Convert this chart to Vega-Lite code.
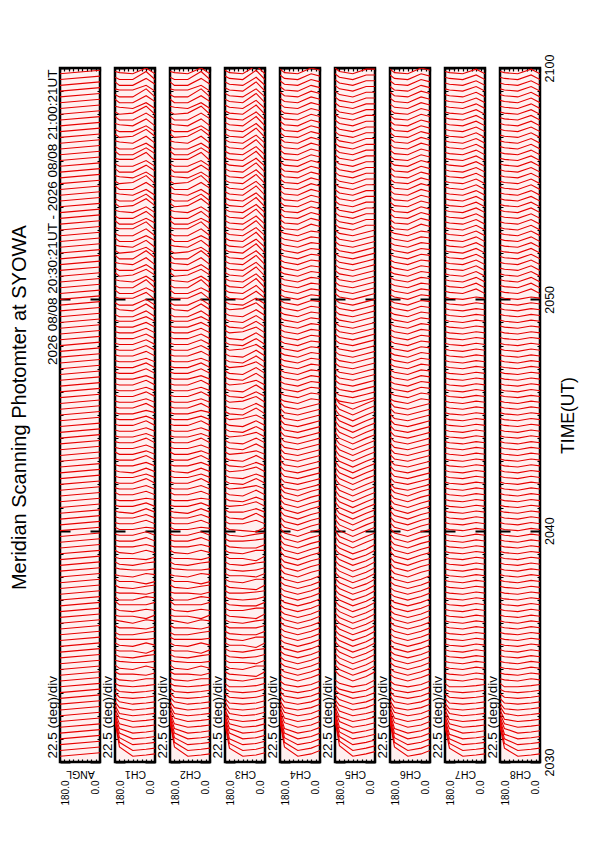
{
  "$schema": "https://vega.github.io/schema/vega-lite/v6.json",
  "padding": {"left": 10, "top": 52, "right": 5, "bottom": 5},
  "background": "white",
  "title": {"text": "Meridian Scanning Photomter at SYOWA", "orient": "left", "anchor": "middle", "fontSize": 20, "fontWeight": "normal", "font": "Liberation Sans", "color": "black", "offset": 14, "dx": 22},
  "config": {
    "font": "Liberation Sans",
    "view": {"stroke": "black", "strokeWidth": 2.5, "fill": "#fff0f0"},
    "axis": {"domain": false, "ticks": false, "tickSize": 0, "labelFont": "Liberation Sans", "titleFont": "Liberation Sans", "titleFontWeight": "normal", "labelColor": "black", "titleColor": "black", "gridColor": "black", "gridOpacity": 1, "labelFlush": false, "labelOverlap": false, "labelBound": false, "zindex": 1},
    "axisX": {"tickCount": 8, "grid": true, "gridDash": [3, 688, 3], "gridWidth": 1.2, "labelAngle": 270, "labelAlign": "right", "labelFontSize": 10, "labelPadding": 18, "titleAngle": 180, "titleFontSize": 10.5, "titleBaseline": "middle"},
    "axisY": {"tickCount": 30, "grid": true, "labelAngle": 270, "labelAlign": "left", "labelBaseline": "alphabetic", "labelFontSize": 13.5, "labelPadding": 3.5, "labelOffset": -4}
  },
  "datasets": {
    "ang": [{"i": 1, "a": 180}, {"i": 2, "a": 160}, {"i": 3, "a": 100}, {"i": 4, "a": 40}, {"i": 5, "a": 0}],
    "angA": [{"i": 1, "a": 180}, {"i": 2, "a": 0}],
    "dN": [
{"t":[5,8]},{"t":[10,13]},{"t":[15,18]},{"t":[20,23]},{"t":[25,28]},{"t":[30,33]},{"t":[35,38]},{"t":[40,43]},{"t":[45,48]},{"t":[50,53]},
{"t":[55,58]},{"t":[60,63]},{"t":[65,68]},{"t":[70,73]},{"t":[75,78]},{"t":[80,83]},{"t":[85,88]},{"t":[90,93]},{"t":[95,98]},{"t":[100,103]},
{"t":[105,108]},{"t":[110,113]},{"t":[115,118]},{"t":[120,123]},{"t":[125,128]},{"t":[130,133]},{"t":[135,138]},{"t":[140,143]},{"t":[145,148]},{"t":[150,153]},
{"t":[155,158]},{"t":[160,163]},{"t":[165,168]},{"t":[170,173]},{"t":[175,178]},{"t":[180,183]},{"t":[185,188]},{"t":[190,193]},{"t":[195,198]},{"t":[200,203]},
{"t":[205,208]},{"t":[210,213]},{"t":[215,218]},{"t":[220,223]},{"t":[225,228]},{"t":[230,233]},{"t":[235,238]},{"t":[240,243]},{"t":[245,248]},{"t":[250,253]},
{"t":[255,258]},{"t":[260,263]},{"t":[265,268]},{"t":[270,273]},{"t":[275,278]},{"t":[280,283]},{"t":[285,288]},{"t":[290,293]},{"t":[295,298]},{"t":[300,303]},
{"t":[305,308]},{"t":[310,313]},{"t":[315,318]},{"t":[320,323]},{"t":[325,328]},{"t":[330,333]},{"t":[335,338]},{"t":[340,343]},{"t":[345,348]},{"t":[350,353]},
{"t":[355,358]},{"t":[360,363]},{"t":[365,368]},{"t":[370,373]},{"t":[375,378]},{"t":[380,383]},{"t":[385,388]},{"t":[390,393]},{"t":[395,398]},{"t":[400,403]},
{"t":[405,408]},{"t":[410,413]},{"t":[415,418]},{"t":[420,423]},{"t":[425,428]},{"t":[430,433]},{"t":[435,438]},{"t":[440,443]},{"t":[445,448]},{"t":[450,453]},
{"t":[455,458]},{"t":[460,463]},{"t":[465,468]},{"t":[470,473]},{"t":[475,478]},{"t":[480,483]},{"t":[485,488]},{"t":[490,493]},{"t":[495,498]},{"t":[500,503]},
{"t":[505,508]},{"t":[510,513]},{"t":[515,518]},{"t":[520,523]},{"t":[525,528]},{"t":[530,533]},{"t":[535,538]},{"t":[540,543]},{"t":[545,548]},{"t":[550,553]},
{"t":[555,558]},{"t":[560,563]},{"t":[565,568]},{"t":[570,573]},{"t":[575,578]},{"t":[580,583]},{"t":[585,588]},{"t":[590,593]},{"t":[595,598]}
    ],
    "dA": [
{"t":[35,13,5,6,7]},{"t":[36,17,10,11,12]},{"t":[37,21,15,16,17]},{"t":[39,25,20,21,22]},{"t":[41,29,25,26,27]},{"t":[43,33,30,31,32]},{"t":[46,38,35,36,37]},{"t":[49,42,40,41,42]},{"t":[52,47,45,46,47]},{"t":[56,52,50,51,52]},
{"t":[60,56,55,56,57]},{"t":[64,61,60,61,62]},{"t":[68,66,65,66,67]},{"t":[73,71,70,72,72]},{"t":[78,76,76,75,77]},{"t":[84,81,80,83,81]},{"t":[88,87,86,86,87]},{"t":[93,91,90,92,93]},{"t":[97,96,96,94,97]},{"t":[103,101,100,103,101]},
{"t":[108,106,106,106,107]},{"t":[112,110,110,112,113]},{"t":[118,116,116,115,117]},{"t":[123,122,120,123,122]},{"t":[127,126,126,124,127]},{"t":[133,131,130,132,131]},{"t":[139,136,136,136,138]},{"t":[143,140,140,143,142]},{"t":[147,146,146,145,147]},{"t":[153,151,150,152,153]},
{"t":[158,156,156,154,156]},{"t":[162,161,160,163,162]},{"t":[168,167,166,166,167]},{"t":[173,171,170,172,173]},{"t":[177,176,176,175,177]},{"t":[183,181,180,183,181]},{"t":[187,186,186,188,186]},{"t":[192,191,191,194,191]},{"t":[197,196,196,199,196]},{"t":[203,201,201,203,202]},
{"t":[207,206,206,209,206]},{"t":[212,211,211,214,211]},{"t":[217,216,215,219,216]},{"t":[222,221,221,224,221]},{"t":[227,226,226,228,227]},{"t":[233,231,231,234,231]},{"t":[237,236,236,239,236]},{"t":[242,241,241,245,241]},{"t":[247,246,246,249,246]},{"t":[252,251,250,254,251]},
{"t":[257,256,256,259,256]},{"t":[262,261,261,265,261]},{"t":[268,266,266,269,266]},{"t":[272,271,271,274,271]},{"t":[277,276,276,280,276]},{"t":[282,281,281,284,281]},{"t":[287,286,286,289,286]},{"t":[292,291,291,295,291]},{"t":[297,296,296,299,296]},{"t":[302,301,301,304,302]},
{"t":[307,306,306,310,306]},{"t":[312,311,311,314,311]},{"t":[317,316,316,320,316]},{"t":[322,321,321,324,321]},{"t":[327,326,326,330,326]},{"t":[332,331,331,334,331]},{"t":[337,336,336,340,336]},{"t":[342,341,341,345,341]},{"t":[347,346,346,349,346]},{"t":[352,351,351,355,351]},
{"t":[357,356,356,360,356]},{"t":[362,361,361,365,361]},{"t":[367,366,366,370,366]},{"t":[372,371,371,375,371]},{"t":[377,376,376,380,376]},{"t":[382,381,381,385,381]},{"t":[387,385,385,390,385]},{"t":[393,391,390,396,391]},{"t":[397,395,395,400,395]},{"t":[402,401,401,406,400]},
{"t":[408,405,405,410,406]},{"t":[412,410,410,417,410]},{"t":[417,416,415,420,415]},{"t":[423,420,421,426,421]},{"t":[427,425,425,430,425]},{"t":[432,431,430,436,430]},{"t":[438,435,435,442,436]},{"t":[442,440,441,445,440]},{"t":[447,446,445,451,445]},{"t":[453,450,450,455,451]},
{"t":[457,455,455,461,455]},{"t":[462,461,461,467,460]},{"t":[468,465,465,470,466]},{"t":[472,470,470,476,470]},{"t":[477,476,475,480,475]},{"t":[483,480,481,487,481]},{"t":[487,485,485,491,485]},{"t":[492,491,490,495,490]},{"t":[498,495,495,501,496]},{"t":[502,500,501,507,500]},
{"t":[507,506,505,510,505]},{"t":[513,510,510,516,511]},{"t":[517,515,515,520,515]},{"t":[522,521,521,527,520]},{"t":[528,525,525,531,526]},{"t":[532,530,530,535,530]},{"t":[537,536,535,541,535]},{"t":[543,540,541,547,541]},{"t":[547,545,545,550,545]},{"t":[552,551,550,556,550]},
{"t":[558,555,555,561,556]},{"t":[562,560,561,567,560]},{"t":[567,566,565,570,565]},{"t":[573,570,570,576,571]},{"t":[577,575,575,582,575]},{"t":[582,581,581,585,580]},{"t":[588,585,585,591,586]},{"t":[592,590,590,597,590]},{"t":[597,596,595,600,595]}
    ],
    "dB": [
{"t":[33,12,5,6,8]},{"t":[35,16,10,11,13]},{"t":[37,20,15,16,18]},{"t":[38,25,20,21,23]},{"t":[40,29,25,26,28]},{"t":[43,33,30,31,33]},{"t":[45,37,35,36,38]},{"t":[48,42,40,41,43]},{"t":[52,46,45,46,48]},{"t":[55,51,50,51,53]},
{"t":[59,56,55,56,58]},{"t":[64,61,60,61,63]},{"t":[68,65,65,66,68]},{"t":[73,71,70,72,73]},{"t":[78,76,75,74,78]},{"t":[83,81,80,83,83]},{"t":[88,86,86,85,88]},{"t":[93,91,90,91,93]},{"t":[98,96,95,97,98]},{"t":[103,101,101,99,103]},
{"t":[108,106,105,108,108]},{"t":[113,111,110,110,113]},{"t":[118,116,116,116,118]},{"t":[123,121,120,122,123]},{"t":[128,126,125,124,128]},{"t":[133,131,131,133,133]},{"t":[138,136,135,135,138]},{"t":[143,141,140,141,143]},{"t":[148,146,146,147,148]},{"t":[153,151,150,149,153]},
{"t":[158,156,155,158,158]},{"t":[163,161,161,160,163]},{"t":[168,166,165,166,168]},{"t":[173,171,170,172,173]},{"t":[178,176,176,174,178]},{"t":[183,181,180,183,183]},{"t":[188,186,185,185,188]},{"t":[193,191,191,192,193]},{"t":[198,196,195,197,198]},{"t":[203,201,200,199,203]},
{"t":[208,206,206,209,206]},{"t":[213,211,210,215,211]},{"t":[218,216,216,219,216]},{"t":[222,221,222,225,221]},{"t":[228,226,225,229,226]},{"t":[233,231,230,235,231]},{"t":[238,236,237,239,236]},{"t":[243,241,240,245,241]},{"t":[248,246,245,249,246]},{"t":[253,251,252,255,251]},
{"t":[258,256,255,259,256]},{"t":[263,261,260,265,261]},{"t":[268,266,267,269,266]},{"t":[273,271,270,275,271]},{"t":[278,276,275,280,276]},{"t":[283,281,282,285,281]},{"t":[288,286,285,290,286]},{"t":[293,291,290,295,291]},{"t":[298,296,297,300,296]},{"t":[303,301,300,306,301]},
{"t":[308,306,305,310,306]},{"t":[313,311,312,316,311]},{"t":[318,316,315,320,316]},{"t":[323,321,320,326,321]},{"t":[328,326,327,330,326]},{"t":[333,331,330,336,331]},{"t":[338,336,335,341,336]},{"t":[343,341,342,346,341]},{"t":[348,346,345,351,346]},{"t":[353,351,350,356,351]},
{"t":[358,356,357,361,356]},{"t":[363,361,360,366,361]},{"t":[368,366,365,371,366]},{"t":[373,371,372,376,371]},{"t":[378,376,375,381,376]},{"t":[383,381,380,386,381]},{"t":[388,386,385,391,386]},{"t":[393,391,392,397,391]},{"t":[398,396,395,401,396]},{"t":[403,401,400,407,401]},
{"t":[408,406,405,412,405]},{"t":[413,411,410,418,410]},{"t":[418,416,415,422,415]},{"t":[423,421,420,428,420]},{"t":[428,426,425,432,425]},{"t":[433,431,430,438,430]},{"t":[438,436,435,442,435]},{"t":[443,441,440,448,440]},{"t":[448,446,445,452,445]},{"t":[453,451,450,458,450]},
{"t":[458,456,455,462,455]},{"t":[463,461,460,468,460]},{"t":[468,466,465,472,465]},{"t":[473,471,470,478,470]},{"t":[478,476,475,482,475]},{"t":[483,481,480,488,480]},{"t":[488,486,485,492,485]},{"t":[493,491,490,498,490]},{"t":[498,496,495,502,495]},{"t":[503,501,500,508,500]},
{"t":[508,506,505,512,505]},{"t":[513,511,510,518,510]},{"t":[518,516,515,522,515]},{"t":[523,521,520,528,520]},{"t":[528,526,525,532,525]},{"t":[533,531,530,538,530]},{"t":[538,536,535,542,535]},{"t":[543,541,540,548,540]},{"t":[548,546,545,552,545]},{"t":[553,551,550,558,550]},
{"t":[558,556,555,562,555]},{"t":[563,561,560,568,560]},{"t":[568,566,565,572,565]},{"t":[573,571,570,578,570]},{"t":[578,576,575,582,575]},{"t":[583,581,580,588,580]},{"t":[588,586,585,592,585]},{"t":[593,591,590,598,590]},{"t":[598,596,595,602,595]}
    ],
    "dC": [
{"t":[35,13,5,7,10]},{"t":[37,17,10,12,15]},{"t":[38,21,15,17,20]},{"t":[40,25,20,22,25]},{"t":[42,29,25,27,30]},{"t":[44,34,30,32,35]},{"t":[47,38,35,37,40]},{"t":[50,43,40,42,45]},{"t":[53,47,45,47,50]},{"t":[57,52,50,52,55]},
{"t":[61,57,55,57,60]},{"t":[65,62,60,62,65]},{"t":[70,67,65,67,70]},{"t":[76,73,70,73,76]},{"t":[81,78,75,78,81]},{"t":[86,83,80,83,86]},{"t":[91,88,85,88,91]},{"t":[96,93,90,93,96]},{"t":[101,98,95,98,101]},{"t":[106,103,100,103,106]},
{"t":[111,108,105,108,111]},{"t":[116,113,110,113,116]},{"t":[121,118,115,118,121]},{"t":[126,123,120,123,126]},{"t":[131,128,125,128,131]},{"t":[136,133,130,133,136]},{"t":[141,138,135,138,141]},{"t":[146,143,140,143,146]},{"t":[151,148,145,148,151]},{"t":[156,153,150,153,156]},
{"t":[161,158,155,158,161]},{"t":[167,163,160,164,166]},{"t":[172,168,165,169,171]},{"t":[177,173,170,174,176]},{"t":[182,178,175,179,181]},{"t":[187,183,180,184,186]},{"t":[192,188,185,189,191]},{"t":[197,193,190,194,196]},{"t":[202,198,195,199,201]},{"t":[207,203,200,204,206]},
{"t":[212,208,205,209,211]},{"t":[217,213,210,214,216]},{"t":[222,218,215,219,221]},{"t":[227,223,220,224,226]},{"t":[232,228,225,229,231]},{"t":[237,233,230,234,236]},{"t":[241,237,235,238,240]},{"t":[246,242,240,243,245]},{"t":[251,247,245,248,250]},{"t":[256,252,250,253,255]},
{"t":[261,257,255,258,260]},{"t":[266,262,260,263,265]},{"t":[271,267,265,268,270]},{"t":[276,272,270,273,275]},{"t":[281,277,275,278,280]},{"t":[286,282,280,283,285]},{"t":[291,287,285,288,290]},{"t":[296,292,290,293,295]},{"t":[301,297,295,298,300]},{"t":[306,302,300,303,305]},
{"t":[311,307,305,308,310]},{"t":[314,312,310,314,313]},{"t":[319,317,315,319,318]},{"t":[324,322,320,324,323]},{"t":[329,327,325,329,328]},{"t":[334,332,330,334,333]},{"t":[339,337,335,339,338]},{"t":[344,342,340,344,343]},{"t":[349,347,345,349,348]},{"t":[354,352,350,354,353]},
{"t":[359,357,355,359,358]},{"t":[364,362,360,364,363]},{"t":[369,367,365,369,368]},{"t":[374,372,370,374,373]},{"t":[379,377,375,379,378]},{"t":[384,382,380,384,383]},{"t":[389,387,385,389,388]},{"t":[394,392,390,394,393]},{"t":[399,397,395,399,398]},{"t":[404,402,400,404,403]},
{"t":[409,407,405,409,408]},{"t":[414,412,410,414,413]},{"t":[419,417,415,419,418]},{"t":[424,422,420,424,423]},{"t":[429,427,425,429,428]},{"t":[434,432,430,434,433]},{"t":[439,437,435,439,438]},{"t":[444,442,440,444,443]},{"t":[449,447,445,449,448]},{"t":[454,452,450,454,453]},
{"t":[459,457,455,459,458]},{"t":[464,461,460,465,463]},{"t":[469,466,465,470,468]},{"t":[474,471,470,475,473]},{"t":[479,476,475,480,478]},{"t":[484,481,480,485,483]},{"t":[489,486,485,490,488]},{"t":[494,491,490,495,493]},{"t":[499,496,495,500,498]},{"t":[504,501,500,505,503]},
{"t":[509,506,505,510,508]},{"t":[514,511,510,515,513]},{"t":[519,516,515,520,518]},{"t":[524,521,520,525,523]},{"t":[529,526,525,530,528]},{"t":[534,531,530,535,533]},{"t":[539,536,535,540,538]},{"t":[544,541,540,545,543]},{"t":[549,546,545,550,548]},{"t":[554,551,550,555,553]},
{"t":[559,556,555,560,558]},{"t":[564,561,560,565,563]},{"t":[569,566,565,570,568]},{"t":[574,571,570,575,573]},{"t":[579,576,575,580,578]},{"t":[584,581,580,585,583]},{"t":[589,586,585,590,588]},{"t":[594,591,590,595,593]},{"t":[599,596,595,600,598]}
    ],
    "dD": [
{"t":[36,14,5,7,9]},{"t":[38,18,10,12,14]},{"t":[39,22,15,17,19]},{"t":[41,26,20,22,24]},{"t":[43,30,25,27,29]},{"t":[45,35,30,32,34]},{"t":[48,39,35,37,39]},{"t":[51,44,40,42,44]},{"t":[54,49,45,47,50]},{"t":[58,54,50,52,55]},
{"t":[62,59,55,57,60]},{"t":[66,63,60,62,66]},{"t":[71,68,65,67,71]},{"t":[79,75,70,74,78]},{"t":[84,80,75,79,83]},{"t":[89,85,80,84,88]},{"t":[94,90,85,89,93]},{"t":[99,95,90,94,98]},{"t":[104,100,95,99,103]},{"t":[109,105,100,104,108]},
{"t":[114,110,105,109,113]},{"t":[119,115,110,114,118]},{"t":[124,120,115,119,123]},{"t":[129,125,120,124,128]},{"t":[134,130,125,129,133]},{"t":[139,135,130,134,138]},{"t":[144,140,135,139,143]},{"t":[149,145,140,144,148]},{"t":[154,150,145,149,153]},{"t":[159,155,150,154,158]},
{"t":[164,160,155,159,163]},{"t":[169,165,160,164,168]},{"t":[174,170,165,169,173]},{"t":[179,175,170,174,178]},{"t":[184,180,175,179,183]},{"t":[189,185,180,184,188]},{"t":[195,190,185,190,193]},{"t":[200,195,190,195,198]},{"t":[205,200,195,200,203]},{"t":[210,205,200,205,208]},
{"t":[215,210,205,210,213]},{"t":[220,215,210,215,218]},{"t":[225,220,215,220,223]},{"t":[230,225,220,225,228]},{"t":[235,230,225,230,233]},{"t":[240,235,230,235,238]},{"t":[245,240,235,240,243]},{"t":[250,245,240,245,248]},{"t":[255,250,245,250,253]},{"t":[260,255,250,255,258]},
{"t":[265,260,255,260,263]},{"t":[270,265,260,265,268]},{"t":[275,270,265,270,273]},{"t":[280,275,270,275,278]},{"t":[285,280,275,280,283]},{"t":[290,285,280,285,288]},{"t":[295,290,285,290,293]},{"t":[300,295,290,295,298]},{"t":[305,300,295,300,303]},{"t":[310,305,300,305,308]},
{"t":[315,310,305,310,313]},{"t":[315,312,310,313,315]},{"t":[320,317,315,318,320]},{"t":[325,322,320,323,325]},{"t":[330,327,325,328,330]},{"t":[335,332,330,333,335]},{"t":[340,337,335,338,340]},{"t":[345,342,340,343,345]},{"t":[350,347,345,348,350]},{"t":[355,352,350,353,355]},
{"t":[360,357,355,358,360]},{"t":[365,362,360,363,365]},{"t":[370,367,365,368,370]},{"t":[375,372,370,373,375]},{"t":[380,377,375,378,380]},{"t":[385,382,380,383,385]},{"t":[390,387,385,388,390]},{"t":[395,392,390,393,395]},{"t":[400,397,395,398,400]},{"t":[405,402,400,403,405]},
{"t":[410,407,405,408,410]},{"t":[415,412,410,413,415]},{"t":[420,417,415,418,420]},{"t":[425,422,420,423,425]},{"t":[430,427,425,428,430]},{"t":[435,432,430,433,435]},{"t":[440,437,435,438,440]},{"t":[445,442,440,443,445]},{"t":[450,447,445,448,450]},{"t":[455,452,450,453,455]},
{"t":[460,457,455,458,460]},{"t":[465,462,460,464,464]},{"t":[470,467,465,469,469]},{"t":[475,472,470,474,474]},{"t":[480,477,475,479,479]},{"t":[485,482,480,484,484]},{"t":[490,487,485,489,489]},{"t":[495,492,490,494,494]},{"t":[500,497,495,499,499]},{"t":[505,502,500,504,504]},
{"t":[510,507,505,509,509]},{"t":[515,512,510,514,514]},{"t":[520,517,515,519,519]},{"t":[525,522,520,524,524]},{"t":[530,527,525,529,529]},{"t":[535,532,530,534,534]},{"t":[540,537,535,539,539]},{"t":[545,542,540,544,544]},{"t":[550,547,545,549,549]},{"t":[555,552,550,554,554]},
{"t":[560,557,555,559,559]},{"t":[565,562,560,564,564]},{"t":[570,567,565,569,569]},{"t":[575,572,570,574,574]},{"t":[580,577,575,579,579]},{"t":[585,582,580,584,584]},{"t":[590,587,585,589,589]},{"t":[595,592,590,594,594]},{"t":[600,597,595,599,599]}
    ],
    "dE": [
{"t":[31,12,5,6,7]},{"t":[33,16,10,11,12]},{"t":[35,20,15,16,17]},{"t":[37,24,20,21,22]},{"t":[39,29,25,26,27]},{"t":[42,33,30,31,32]},{"t":[45,37,35,36,37]},{"t":[48,42,40,41,42]},{"t":[51,46,45,46,47]},{"t":[55,51,50,51,52]},
{"t":[59,56,55,56,57]},{"t":[63,61,60,61,62]},{"t":[68,65,65,66,67]},{"t":[72,71,70,72,71]},{"t":[77,76,75,77,76]},{"t":[82,81,80,82,81]},{"t":[87,86,85,87,86]},{"t":[92,91,90,92,91]},{"t":[97,96,95,97,96]},{"t":[102,101,100,102,101]},
{"t":[107,106,105,107,106]},{"t":[112,111,110,112,111]},{"t":[117,116,115,117,116]},{"t":[122,121,120,122,121]},{"t":[127,126,125,127,126]},{"t":[132,131,130,132,131]},{"t":[137,136,135,137,136]},{"t":[142,141,140,142,141]},{"t":[147,146,145,147,146]},{"t":[152,151,150,152,151]},
{"t":[157,156,155,157,156]},{"t":[162,161,160,162,161]},{"t":[167,166,165,167,166]},{"t":[172,171,170,172,171]},{"t":[177,176,175,177,176]},{"t":[182,181,180,182,181]},{"t":[187,186,185,187,186]},{"t":[192,191,190,192,191]},{"t":[197,196,195,197,196]},{"t":[202,201,200,202,201]},
{"t":[207,206,205,207,206]},{"t":[212,211,210,212,211]},{"t":[217,216,215,217,216]},{"t":[222,221,220,222,221]},{"t":[227,226,225,227,226]},{"t":[232,231,230,232,231]},{"t":[237,236,235,237,236]},{"t":[242,241,240,242,241]},{"t":[247,246,245,247,246]},{"t":[252,251,250,252,251]},
{"t":[257,256,255,257,256]},{"t":[262,261,260,262,261]},{"t":[267,266,265,267,266]},{"t":[272,271,270,272,271]},{"t":[277,276,275,277,276]},{"t":[282,281,280,282,281]},{"t":[287,286,285,287,286]},{"t":[292,291,290,292,291]},{"t":[297,296,295,297,296]},{"t":[302,301,300,302,301]},
{"t":[307,306,305,307,306]},{"t":[312,311,310,312,311]},{"t":[317,316,315,317,316]},{"t":[322,321,320,322,321]},{"t":[327,326,325,327,326]},{"t":[332,331,330,332,331]},{"t":[337,336,335,337,336]},{"t":[342,341,340,342,341]},{"t":[347,346,345,347,346]},{"t":[352,351,350,352,351]},
{"t":[357,356,355,357,356]},{"t":[362,361,360,362,361]},{"t":[367,366,365,367,366]},{"t":[372,371,370,372,371]},{"t":[377,376,375,377,376]},{"t":[382,381,380,382,381]},{"t":[387,386,385,387,386]},{"t":[392,391,390,392,391]},{"t":[397,396,395,397,396]},{"t":[402,401,400,402,401]},
{"t":[407,406,405,409,405]},{"t":[412,411,410,414,410]},{"t":[417,416,415,419,415]},{"t":[422,421,420,424,420]},{"t":[427,426,425,429,425]},{"t":[432,431,430,434,430]},{"t":[437,436,435,439,435]},{"t":[442,441,440,444,440]},{"t":[447,446,445,449,445]},{"t":[452,451,450,454,450]},
{"t":[457,456,455,459,455]},{"t":[462,461,460,464,460]},{"t":[467,466,465,469,465]},{"t":[472,471,470,474,470]},{"t":[477,476,475,479,475]},{"t":[482,481,480,484,480]},{"t":[487,486,485,489,485]},{"t":[492,491,490,494,490]},{"t":[497,496,495,499,495]},{"t":[502,501,500,504,500]},
{"t":[507,506,505,509,505]},{"t":[512,511,510,514,510]},{"t":[517,516,515,519,515]},{"t":[522,521,520,524,520]},{"t":[527,526,525,529,525]},{"t":[532,531,530,534,530]},{"t":[537,536,535,539,535]},{"t":[542,541,540,544,540]},{"t":[547,546,545,549,545]},{"t":[552,551,550,554,550]},
{"t":[557,556,555,559,555]},{"t":[562,561,560,564,560]},{"t":[567,566,565,569,565]},{"t":[572,571,570,574,570]},{"t":[577,576,575,579,575]},{"t":[582,581,580,584,580]},{"t":[587,586,585,589,585]},{"t":[592,591,590,594,590]},{"t":[597,596,595,599,595]}
    ]
  },
  "hconcat": [
    {
      "width": 40, "height": 694,
      "data": {"name": "dN"},
      "transform": [
        {"window": [{"op": "row_number", "as": "s"}]},
        {"flatten": ["t"]},
        {"window": [{"op": "row_number", "as": "i"}], "groupby": ["s"]},
        {"lookup": "i", "from": {"data": {"name": "angA"}, "key": "i", "fields": ["a"]}}
      ],
      "mark": {"type": "line", "clip": true, "color": "#e80000", "strokeWidth": 1.1},
      "encoding": {
        "x": {"field": "a", "type": "quantitative", "scale": {"domain": [0, 180], "reverse": true, "nice": false},
              "axis": {"title": "ANGL", "titleY": 11, "labelExpr": "datum.value == 180 ? '180.0' : datum.value == 0 ? '0.0' : ''", "labelBaseline": {"condition": {"test": "datum.value == 180", "value": "top"}, "value": "bottom"}}},
        "y": {"field": "t", "type": "quantitative", "scale": {"domain": [0, 600], "nice": false},
              "axis": {"title": "2026 08/08 20:30:21UT - 2026 08/08 21:00:21UT", "titleAngle": 270, "titleAlign": "right", "titleBaseline": "alphabetic", "titleX": -3.5, "titleY": 1, "titleFontSize": 13.5,
                       "labelExpr": "datum.value == 0 ? '22.5 (deg)/div' : ''", "gridDash": {"condition": {"test": "datum.value % 200 == 0", "value": [10, 20, 10]}, "value": [3, 34, 3]}, "gridWidth": {"condition": {"test": "datum.value % 200 == 0", "value": 2}, "value": 1.2}}},
        "detail": {"field": "s", "type": "nominal"},
        "order": {"field": "i", "type": "quantitative"}
      }
    },
    {
      "width": 40, "height": 694,
      "data": {"name": "dA"},
      "transform": [
        {"window": [{"op": "row_number", "as": "s"}]},
        {"flatten": ["t"]},
        {"window": [{"op": "row_number", "as": "i"}], "groupby": ["s"]},
        {"lookup": "i", "from": {"data": {"name": "ang"}, "key": "i", "fields": ["a"]}}
      ],
      "mark": {"type": "line", "clip": true, "color": "#e80000", "strokeWidth": 1.1},
      "encoding": {
        "x": {"field": "a", "type": "quantitative", "scale": {"domain": [0, 180], "reverse": true, "nice": false},
              "axis": {"title": "CH1", "titleY": 11, "labelExpr": "datum.value == 180 ? '180.0' : datum.value == 0 ? '0.0' : ''", "labelBaseline": {"condition": {"test": "datum.value == 180", "value": "top"}, "value": "bottom"}}},
        "y": {"field": "t", "type": "quantitative", "scale": {"domain": [0, 600], "nice": false},
              "axis": {"title": null, "labelExpr": "datum.value == 0 ? '22.5 (deg)/div' : ''", "gridDash": {"condition": {"test": "datum.value % 200 == 0", "value": [10, 20, 10]}, "value": [3, 34, 3]}, "gridWidth": {"condition": {"test": "datum.value % 200 == 0", "value": 2}, "value": 1.2}}},
        "detail": {"field": "s", "type": "nominal"},
        "order": {"field": "i", "type": "quantitative"}
      }
    },
    {
      "width": 40, "height": 694,
      "data": {"name": "dA"},
      "transform": [
        {"window": [{"op": "row_number", "as": "s"}]},
        {"flatten": ["t"]},
        {"window": [{"op": "row_number", "as": "i"}], "groupby": ["s"]},
        {"lookup": "i", "from": {"data": {"name": "ang"}, "key": "i", "fields": ["a"]}}
      ],
      "mark": {"type": "line", "clip": true, "color": "#e80000", "strokeWidth": 1.1},
      "encoding": {
        "x": {"field": "a", "type": "quantitative", "scale": {"domain": [0, 180], "reverse": true, "nice": false},
              "axis": {"title": "CH2", "titleY": 11, "labelExpr": "datum.value == 180 ? '180.0' : datum.value == 0 ? '0.0' : ''", "labelBaseline": {"condition": {"test": "datum.value == 180", "value": "top"}, "value": "bottom"}}},
        "y": {"field": "t", "type": "quantitative", "scale": {"domain": [0, 600], "nice": false},
              "axis": {"title": null, "labelExpr": "datum.value == 0 ? '22.5 (deg)/div' : ''", "gridDash": {"condition": {"test": "datum.value % 200 == 0", "value": [10, 20, 10]}, "value": [3, 34, 3]}, "gridWidth": {"condition": {"test": "datum.value % 200 == 0", "value": 2}, "value": 1.2}}},
        "detail": {"field": "s", "type": "nominal"},
        "order": {"field": "i", "type": "quantitative"}
      }
    },
    {
      "width": 40, "height": 694,
      "data": {"name": "dB"},
      "transform": [
        {"window": [{"op": "row_number", "as": "s"}]},
        {"flatten": ["t"]},
        {"window": [{"op": "row_number", "as": "i"}], "groupby": ["s"]},
        {"lookup": "i", "from": {"data": {"name": "ang"}, "key": "i", "fields": ["a"]}}
      ],
      "mark": {"type": "line", "clip": true, "color": "#e80000", "strokeWidth": 1.1},
      "encoding": {
        "x": {"field": "a", "type": "quantitative", "scale": {"domain": [0, 180], "reverse": true, "nice": false},
              "axis": {"title": "CH3", "titleY": 11, "labelExpr": "datum.value == 180 ? '180.0' : datum.value == 0 ? '0.0' : ''", "labelBaseline": {"condition": {"test": "datum.value == 180", "value": "top"}, "value": "bottom"}}},
        "y": {"field": "t", "type": "quantitative", "scale": {"domain": [0, 600], "nice": false},
              "axis": {"title": null, "labelExpr": "datum.value == 0 ? '22.5 (deg)/div' : ''", "gridDash": {"condition": {"test": "datum.value % 200 == 0", "value": [10, 20, 10]}, "value": [3, 34, 3]}, "gridWidth": {"condition": {"test": "datum.value % 200 == 0", "value": 2}, "value": 1.2}}},
        "detail": {"field": "s", "type": "nominal"},
        "order": {"field": "i", "type": "quantitative"}
      }
    },
    {
      "width": 40, "height": 694,
      "data": {"name": "dC"},
      "transform": [
        {"window": [{"op": "row_number", "as": "s"}]},
        {"flatten": ["t"]},
        {"window": [{"op": "row_number", "as": "i"}], "groupby": ["s"]},
        {"lookup": "i", "from": {"data": {"name": "ang"}, "key": "i", "fields": ["a"]}}
      ],
      "mark": {"type": "line", "clip": true, "color": "#e80000", "strokeWidth": 1.1},
      "encoding": {
        "x": {"field": "a", "type": "quantitative", "scale": {"domain": [0, 180], "reverse": true, "nice": false},
              "axis": {"title": "CH4", "titleY": 11, "labelExpr": "datum.value == 180 ? '180.0' : datum.value == 0 ? '0.0' : ''", "labelBaseline": {"condition": {"test": "datum.value == 180", "value": "top"}, "value": "bottom"}}},
        "y": {"field": "t", "type": "quantitative", "scale": {"domain": [0, 600], "nice": false},
              "axis": {"title": null, "labelExpr": "datum.value == 0 ? '22.5 (deg)/div' : ''", "gridDash": {"condition": {"test": "datum.value % 200 == 0", "value": [10, 20, 10]}, "value": [3, 34, 3]}, "gridWidth": {"condition": {"test": "datum.value % 200 == 0", "value": 2}, "value": 1.2}}},
        "detail": {"field": "s", "type": "nominal"},
        "order": {"field": "i", "type": "quantitative"}
      }
    },
    {
      "width": 40, "height": 694,
      "data": {"name": "dD"},
      "transform": [
        {"window": [{"op": "row_number", "as": "s"}]},
        {"flatten": ["t"]},
        {"window": [{"op": "row_number", "as": "i"}], "groupby": ["s"]},
        {"lookup": "i", "from": {"data": {"name": "ang"}, "key": "i", "fields": ["a"]}}
      ],
      "mark": {"type": "line", "clip": true, "color": "#e80000", "strokeWidth": 1.1},
      "encoding": {
        "x": {"field": "a", "type": "quantitative", "scale": {"domain": [0, 180], "reverse": true, "nice": false},
              "axis": {"title": "CH5", "titleY": 11, "labelExpr": "datum.value == 180 ? '180.0' : datum.value == 0 ? '0.0' : ''", "labelBaseline": {"condition": {"test": "datum.value == 180", "value": "top"}, "value": "bottom"}}},
        "y": {"field": "t", "type": "quantitative", "scale": {"domain": [0, 600], "nice": false},
              "axis": {"title": null, "labelExpr": "datum.value == 0 ? '22.5 (deg)/div' : ''", "gridDash": {"condition": {"test": "datum.value % 200 == 0", "value": [10, 20, 10]}, "value": [3, 34, 3]}, "gridWidth": {"condition": {"test": "datum.value % 200 == 0", "value": 2}, "value": 1.2}}},
        "detail": {"field": "s", "type": "nominal"},
        "order": {"field": "i", "type": "quantitative"}
      }
    },
    {
      "width": 40, "height": 694,
      "data": {"name": "dC"},
      "transform": [
        {"window": [{"op": "row_number", "as": "s"}]},
        {"flatten": ["t"]},
        {"window": [{"op": "row_number", "as": "i"}], "groupby": ["s"]},
        {"lookup": "i", "from": {"data": {"name": "ang"}, "key": "i", "fields": ["a"]}}
      ],
      "mark": {"type": "line", "clip": true, "color": "#e80000", "strokeWidth": 1.1},
      "encoding": {
        "x": {"field": "a", "type": "quantitative", "scale": {"domain": [0, 180], "reverse": true, "nice": false},
              "axis": {"title": "CH6", "titleY": 11, "labelExpr": "datum.value == 180 ? '180.0' : datum.value == 0 ? '0.0' : ''", "labelBaseline": {"condition": {"test": "datum.value == 180", "value": "top"}, "value": "bottom"}}},
        "y": {"field": "t", "type": "quantitative", "scale": {"domain": [0, 600], "nice": false},
              "axis": {"title": null, "labelExpr": "datum.value == 0 ? '22.5 (deg)/div' : ''", "gridDash": {"condition": {"test": "datum.value % 200 == 0", "value": [10, 20, 10]}, "value": [3, 34, 3]}, "gridWidth": {"condition": {"test": "datum.value % 200 == 0", "value": 2}, "value": 1.2}}},
        "detail": {"field": "s", "type": "nominal"},
        "order": {"field": "i", "type": "quantitative"}
      }
    },
    {
      "width": 40, "height": 694,
      "data": {"name": "dE"},
      "transform": [
        {"window": [{"op": "row_number", "as": "s"}]},
        {"flatten": ["t"]},
        {"window": [{"op": "row_number", "as": "i"}], "groupby": ["s"]},
        {"lookup": "i", "from": {"data": {"name": "ang"}, "key": "i", "fields": ["a"]}}
      ],
      "mark": {"type": "line", "clip": true, "color": "#e80000", "strokeWidth": 1.1},
      "encoding": {
        "x": {"field": "a", "type": "quantitative", "scale": {"domain": [0, 180], "reverse": true, "nice": false},
              "axis": {"title": "CH7", "titleY": 11, "labelExpr": "datum.value == 180 ? '180.0' : datum.value == 0 ? '0.0' : ''", "labelBaseline": {"condition": {"test": "datum.value == 180", "value": "top"}, "value": "bottom"}}},
        "y": {"field": "t", "type": "quantitative", "scale": {"domain": [0, 600], "nice": false},
              "axis": {"title": null, "labelExpr": "datum.value == 0 ? '22.5 (deg)/div' : ''", "gridDash": {"condition": {"test": "datum.value % 200 == 0", "value": [10, 20, 10]}, "value": [3, 34, 3]}, "gridWidth": {"condition": {"test": "datum.value % 200 == 0", "value": 2}, "value": 1.2}}},
        "detail": {"field": "s", "type": "nominal"},
        "order": {"field": "i", "type": "quantitative"}
      }
    },
    {
      "width": 40, "height": 694,
      "layer": [
        {
          "data": {"name": "dE"},
          "transform": [
            {"window": [{"op": "row_number", "as": "s"}]},
            {"flatten": ["t"]},
            {"window": [{"op": "row_number", "as": "i"}], "groupby": ["s"]},
            {"lookup": "i", "from": {"data": {"name": "ang"}, "key": "i", "fields": ["a"]}}
          ],
          "mark": {"type": "line", "clip": true, "color": "#e80000", "strokeWidth": 1.1},
          "encoding": {
            "x": {"field": "a", "type": "quantitative", "scale": {"domain": [0, 180], "reverse": true, "nice": false},
                  "axis": {"title": "CH8", "titleY": 11, "labelExpr": "datum.value == 180 ? '180.0' : datum.value == 0 ? '0.0' : ''", "labelBaseline": {"condition": {"test": "datum.value == 180", "value": "top"}, "value": "bottom"}}},
            "y": {"field": "t", "type": "quantitative", "scale": {"domain": [0, 600], "nice": false},
                  "axis": {"title": null, "labelExpr": "datum.value == 0 ? '22.5 (deg)/div' : ''", "gridDash": {"condition": {"test": "datum.value % 200 == 0", "value": [10, 20, 10]}, "value": [3, 34, 3]}, "gridWidth": {"condition": {"test": "datum.value % 200 == 0", "value": 2}, "value": 1.2}}},
            "detail": {"field": "s", "type": "nominal"},
            "order": {"field": "i", "type": "quantitative"}
          }
        },
        {
          "data": {"values": [{"t": 300}]},
          "mark": {"type": "point", "opacity": 0},
          "encoding": {
            "y": {"field": "t", "type": "quantitative", "scale": {"domain": [0, 600], "nice": false},
                  "axis": {"orient": "right", "values": [0, 200, 400, 600], "grid": false, "labelExpr": "datum.value == 0 ? '2030' : datum.value == 200 ? '2040' : datum.value == 400 ? '2050' : '2100'", "labelAngle": 270, "labelAlign": "center", "labelBaseline": "top", "labelFontSize": 12.5, "labelPadding": 3, "labelOffset": 0,
                           "title": "TIME(UT)", "titleAngle": 270, "titleBaseline": "top", "titleFontSize": 17.5, "titlePadding": 4}}
          }
        }
      ],
      "resolve": {"scale": {"y": "independent"}}
    }
  ],
  "spacing": 15,
  "bounds": "flush"
}
